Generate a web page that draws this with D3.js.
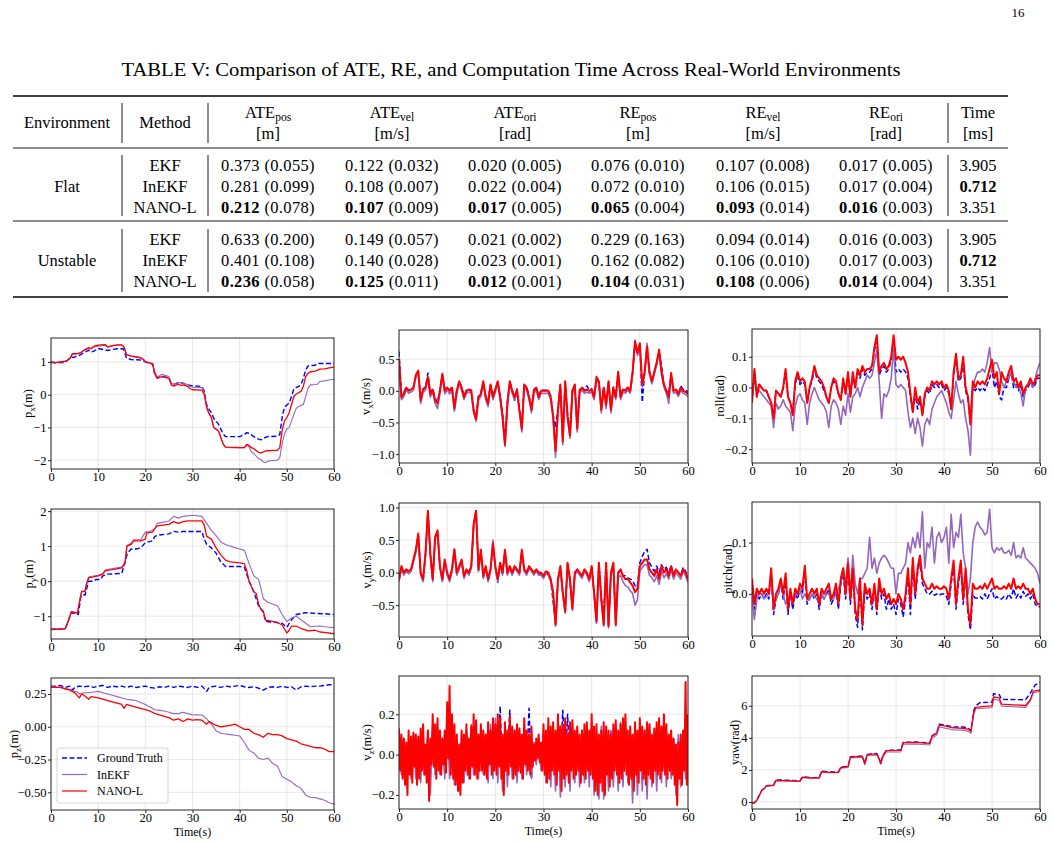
<!DOCTYPE html>
<html>
<head>
<meta charset="utf-8">
<script src="https://cdn.jsdelivr.net/npm/d3@7"></script>
<style>
  body { margin: 0; background: #fff; }
  svg text { font-family: "Liberation Serif", "Times New Roman", serif; fill: #000; }
</style>
</head>
<body>
<svg id="page" width="1053" height="843"></svg>
<script>
// ---------- table data ----------
const tableTitle = "TABLE V: Comparison of ATE, RE, and Computation Time Across Real-World Environments";
const metricNames = ["ATE", "ATE", "ATE", "RE", "RE", "RE"];
const metricSubs = ["pos", "vel", "ori", "pos", "vel", "ori"];
const metricUnits = ["[m]", "[m/s]", "[rad]", "[m]", "[m/s]", "[rad]"];
const environments = ["Flat", "Unstable"];
const methods = ["EKF", "InEKF", "NANO-L"];
const flatMean = [[0.373, 0.122, 0.020, 0.076, 0.107, 0.017], [0.281, 0.108, 0.022, 0.072, 0.106, 0.017], [0.212, 0.107, 0.017, 0.065, 0.093, 0.016]];
const flatStd = [[0.055, 0.032, 0.005, 0.010, 0.008, 0.005], [0.099, 0.007, 0.004, 0.010, 0.015, 0.004], [0.078, 0.009, 0.005, 0.004, 0.014, 0.003]];
const unstableMean = [[0.633, 0.149, 0.021, 0.229, 0.094, 0.016], [0.401, 0.140, 0.023, 0.162, 0.106, 0.017], [0.236, 0.125, 0.012, 0.104, 0.108, 0.014]];
const unstableStd = [[0.200, 0.057, 0.002, 0.163, 0.014, 0.003], [0.108, 0.028, 0.001, 0.082, 0.010, 0.003], [0.058, 0.011, 0.001, 0.031, 0.006, 0.004]];
const computeTime = [3.905, 0.712, 3.351];

// ---------- plot data ----------
const timeTicks = [0, 10, 20, 30, 40, 50, 60];
const legendNames = ["Ground Truth", "InEKF", "NANO-L"];

// [time, value] pairs read at the turning points
const pxGT = [[0,0.98],[1,0.97],[2,0.98],[3,0.98],[3.5,1.05],[4,1.12],[5,1.15],[6,1.2],[7,1.28],[8,1.36],[8.5,1.3],[9,1.32],[10,1.41],[11,1.38],[12,1.35],[13,1.38],[14,1.4],[15.3,1.4],[15.6,1.3],[16,1.12],[17,1.07],[19,1.06],[20,1.0],[21,0.95],[21.6,0.93],[22,0.6],[22.5,0.52],[23.5,0.55],[25,0.52],[25.5,0.34],[26,0.32],[27,0.36],[28,0.35],[29,0.3],[30,0.27],[32,0.25],[32.5,0.1],[33,-0.3],[33.5,-0.45],[34,-0.55],[34.5,-0.72],[35.5,-0.9],[36,-1.05],[36.5,-1.2],[37,-1.28],[40,-1.28],[41,-1.22],[41.5,-1.16],[42,-1.18],[43,-1.28],[44,-1.36],[44.5,-1.38],[45.5,-1.3],[46,-1.28],[48,-1.27],[48.5,-1.22],[49,-0.7],[49.5,-0.38],[50,-0.32],[50.5,-0.25],[51,-0.05],[51.5,0.18],[52.5,0.25],[53,0.3],[53.5,0.5],[54,0.75],[54.5,0.88],[56,0.9],[56.5,0.95],[60,0.95]];
const pxInEKF = [[0,1.0],[1,0.98],[2,1.0],[3,1.02],[3.5,1.05],[4,1.1],[4.5,1.22],[5.5,1.24],[6.5,1.3],[7,1.35],[7.5,1.38],[8,1.42],[8.5,1.4],[9,1.45],[10,1.48],[11,1.5],[11.5,1.5],[12,1.45],[13,1.49],[14,1.51],[15,1.51],[15.5,1.45],[16,1.22],[17,1.18],[19,1.14],[19.5,1.1],[20,1.02],[21,0.97],[21.5,0.96],[22,0.7],[22.5,0.55],[23,0.58],[23.5,0.62],[25,0.55],[25.5,0.35],[26,0.32],[27,0.38],[28,0.35],[29,0.3],[29.5,0.25],[30,0.23],[32,0.22],[32.5,0.05],[33,-0.35],[33.5,-0.55],[34,-0.7],[34.5,-1.0],[35.5,-1.12],[36,-1.32],[36.5,-1.52],[37,-1.6],[38,-1.62],[40,-1.63],[41,-1.62],[41.5,-1.55],[42,-1.6],[42.5,-1.75],[43,-1.8],[44,-1.95],[44.5,-1.98],[45,-2.05],[45.5,-2.08],[46,-2.03],[47,-2.01],[48,-2.0],[48.5,-1.92],[49,-1.5],[49.5,-1.2],[50,-1.05],[50.5,-1.0],[51,-0.8],[51.5,-0.6],[52,-0.42],[52.5,-0.36],[53.5,-0.3],[54,-0.05],[54.5,0.2],[55,0.3],[56,0.31],[56.5,0.32],[57,0.4],[58,0.42],[59,0.45],[60,0.47]];
const pxNANO = [[0,1.0],[1,0.98],[2,1.0],[3,1.02],[3.5,1.05],[4,1.1],[4.5,1.25],[5.5,1.25],[6,1.27],[6.5,1.3],[7,1.36],[7.5,1.4],[8,1.44],[8.5,1.4],[9,1.47],[9.5,1.5],[10.5,1.52],[11.5,1.53],[12,1.46],[13,1.5],[14,1.52],[15,1.52],[15.5,1.45],[16,1.22],[17,1.18],[18,1.15],[19,1.12],[19.5,1.08],[20,1.0],[21,0.96],[21.5,0.95],[22,0.65],[22.5,0.5],[23.5,0.55],[25,0.5],[25.5,0.3],[26,0.26],[27,0.32],[27.5,0.28],[28,0.3],[29,0.25],[29.5,0.18],[30,0.15],[32,0.14],[32.5,0.0],[33,-0.4],[33.5,-0.58],[34,-0.7],[34.5,-1.0],[35.5,-1.1],[36,-1.3],[36.5,-1.5],[37,-1.6],[39,-1.61],[41,-1.62],[41.5,-1.52],[42,-1.55],[42.5,-1.62],[43,-1.65],[44,-1.76],[44.5,-1.78],[45.5,-1.72],[47,-1.7],[48,-1.7],[48.5,-1.62],[49,-1.1],[49.5,-0.8],[50,-0.7],[50.5,-0.55],[51,-0.3],[51.5,-0.05],[52,0.02],[53,0.1],[53.5,0.25],[54,0.55],[54.5,0.65],[55,0.7],[56,0.72],[57,0.78],[58,0.79],[59,0.82],[60,0.84]];

const pyGT = [[0,-1.36],[3,-1.36],[3.5,-1.2],[4.3,-0.9],[5,-0.92],[5.8,-0.95],[6.3,-0.45],[6.8,-0.38],[7.2,-0.4],[8,0.0],[9,0.0],[9.6,0.05],[10.5,0.05],[11,0.15],[12,0.2],[15,0.22],[15.8,0.6],[16.2,0.8],[17,0.92],[18,0.92],[19,0.95],[20,1.1],[21.5,1.15],[22,1.28],[23,1.32],[25,1.35],[26,1.42],[27,1.4],[28,1.42],[32,1.42],[32.5,1.2],[33,1.05],[34,0.95],[35,0.8],[36,0.55],[37,0.42],[40,0.42],[41,0.4],[42,0.0],[43,-0.3],[44,-0.7],[45,-0.88],[45.5,-1.15],[48,-1.18],[49,-1.2],[50,-1.32],[51,-1.1],[52,-0.95],[54,-0.9],[56,-0.92],[58,-0.93],[60,-0.95]];
const pyInEKF = [[0,-1.36],[3,-1.36],[3.5,-1.2],[4.3,-0.86],[5,-0.88],[5.6,-0.9],[6.2,-0.45],[6.5,-0.28],[7.2,-0.28],[7.5,-0.08],[8,0.12],[9,0.15],[10,0.17],[11,0.22],[11.5,0.32],[13,0.36],[15,0.4],[15.7,0.55],[16.1,1.02],[17,1.08],[17.5,1.18],[19,1.18],[20,1.4],[21,1.42],[22,1.5],[22.5,1.65],[25,1.72],[26,1.85],[27,1.8],[28,1.85],[30,1.88],[32,1.85],[33,1.65],[34,1.45],[35,1.3],[36,1.12],[37,1.05],[38,1.0],[40,0.92],[41,0.88],[42,0.5],[43,0.15],[44,0.05],[44.5,-0.2],[45,-0.5],[46,-0.6],[48,-0.7],[49,-0.95],[50,-1.15],[51,-1.05],[52,-1.0],[53,-1.1],[54,-1.2],[55,-1.3],[57,-1.28],[58,-1.3],[60,-1.33]];
const pyNANO = [[0,-1.38],[3,-1.36],[3.5,-1.2],[4.3,-0.88],[5,-0.9],[5.6,-0.92],[6.2,-0.5],[6.5,-0.3],[7.2,-0.3],[7.5,-0.1],[8,0.1],[9,0.12],[10,0.15],[11,0.2],[11.5,0.3],[13,0.33],[15,0.38],[15.7,0.5],[16.1,1.0],[17,1.05],[17.5,1.15],[19,1.15],[20,1.2],[20.3,1.38],[21.5,1.4],[22,1.5],[22.5,1.58],[25,1.62],[26,1.7],[27,1.65],[28,1.7],[29,1.72],[32,1.72],[32.5,1.6],[33,1.28],[34,1.2],[35,0.95],[36,0.75],[37,0.6],[38,0.55],[40,0.52],[41,0.5],[41.5,0.3],[42,0.0],[43,-0.3],[43.5,-0.35],[44,-0.65],[44.5,-0.8],[45,-0.85],[45.5,-1.12],[46,-1.12],[48,-1.18],[49,-1.25],[50,-1.48],[50.5,-1.4],[51,-1.28],[52,-1.28],[53,-1.35],[54.5,-1.42],[56,-1.4],[57,-1.45],[58,-1.46],[60,-1.5]];

const pzGT = [[0,0.31],[1,0.31],[2,0.315],[3,0.3],[4,0.31],[4.6,0.28],[5,0.3],[6,0.31],[7,0.305],[8,0.31],[9,0.3],[10,0.31],[11,0.315],[12,0.3],[13,0.31],[14,0.305],[15,0.31],[16,0.3],[17,0.31],[18,0.3],[19,0.305],[20,0.31],[21,0.3],[22,0.295],[23,0.305],[24,0.3],[25,0.31],[26,0.3],[27,0.31],[28,0.305],[29,0.3],[30,0.31],[31,0.3],[32,0.31],[33,0.27],[33.5,0.3],[34,0.305],[35,0.31],[36,0.3],[37,0.31],[38,0.305],[39,0.31],[40,0.315],[41,0.305],[42,0.3],[43,0.305],[44,0.295],[45,0.28],[46,0.3],[47,0.305],[48,0.3],[49,0.31],[50,0.3],[51,0.305],[52,0.28],[53,0.305],[54,0.31],[55,0.305],[56,0.31],[57,0.31],[58,0.315],[59,0.32],[60,0.32]];
const pzInEKF = [[0,0.3],[1,0.305],[2,0.3],[3,0.29],[4,0.285],[5,0.27],[5.5,0.265],[6,0.25],[7,0.26],[8,0.26],[9,0.265],[10,0.27],[11,0.26],[12,0.25],[13,0.24],[14,0.23],[15,0.22],[16,0.21],[17,0.205],[18,0.2],[19,0.185],[20,0.17],[21,0.15],[22,0.13],[23,0.125],[24,0.12],[25,0.11],[26,0.1],[27,0.1],[28,0.11],[29,0.1],[30,0.09],[31,0.092],[32,0.09],[33,0.06],[34,0.02],[35,-0.03],[36,-0.05],[37,-0.055],[38,-0.06],[39,-0.065],[40,-0.07],[41,-0.12],[42,-0.18],[43,-0.2],[44,-0.24],[45,-0.25],[46,-0.24],[47,-0.28],[48,-0.3],[49,-0.38],[50,-0.4],[51,-0.42],[52,-0.45],[53,-0.47],[54,-0.52],[55,-0.54],[56,-0.54],[57,-0.55],[58,-0.56],[59,-0.58],[60,-0.59]];
const pzNANO = [[0,0.3],[1,0.3],[2,0.3],[3,0.29],[4,0.28],[5,0.26],[6,0.22],[6.5,0.25],[7,0.24],[8,0.21],[8.5,0.23],[10,0.22],[11,0.21],[12,0.2],[13,0.19],[14,0.18],[15,0.17],[15.5,0.14],[16,0.17],[17,0.16],[18,0.15],[19,0.14],[20,0.13],[21,0.12],[22,0.1],[23,0.09],[24,0.08],[25,0.07],[26,0.05],[27,0.06],[28,0.04],[29,0.06],[30,0.05],[31,0.055],[32,0.05],[33,0.02],[33.5,0.04],[34,0.03],[35,0.01],[36,0.0],[37,0.005],[38,0.01],[39,0.02],[40,0.0],[41,-0.02],[42,-0.02],[43,-0.05],[44,-0.06],[45,-0.08],[46,-0.05],[47,-0.06],[48,-0.06],[49,-0.07],[50,-0.09],[51,-0.1],[52,-0.11],[53,-0.13],[54,-0.14],[55,-0.15],[56,-0.16],[57,-0.16],[58,-0.17],[59,-0.19],[60,-0.19]];

const yawGT = [[0,-0.05],[0.5,-0.05],[1,0.1],[1.5,0.4],[2,0.7],[2.5,0.85],[3,1.02],[4.5,1.05],[5,1.38],[8,1.35],[10,1.32],[10.5,1.58],[12,1.52],[14,1.52],[14.5,1.92],[16,1.88],[18,1.87],[18.5,2.17],[20,2.22],[20.5,2.82],[23,2.87],[23.5,2.4],[24,2.97],[26,3.02],[26.5,2.7],[26.8,2.42],[27.3,2.92],[28,3.22],[31,3.25],[31.5,3.72],[34,3.74],[37,3.68],[37.5,4.12],[38.5,4.32],[39,4.85],[40,4.8],[42,4.68],[44,4.68],[45,4.62],[45.6,4.45],[46.2,5.7],[46.6,6.0],[47.5,6.2],[50,6.22],[50.3,6.75],[51.5,6.7],[52,6.4],[57,6.38],[58,6.8],[59,7.3],[60,7.45]];
const yawInEKF = [[0,-0.05],[0.5,-0.05],[1,0.1],[1.5,0.38],[2,0.68],[2.5,0.8],[3,0.98],[4.5,1.02],[5,1.33],[8,1.3],[10,1.28],[10.5,1.52],[12,1.48],[14,1.48],[14.5,1.86],[16,1.82],[18,1.82],[18.5,2.1],[20,2.15],[20.5,2.75],[23,2.8],[23.5,2.32],[24,2.9],[26,2.93],[26.5,2.62],[26.8,2.35],[27.3,2.82],[28,3.12],[31,3.12],[31.5,3.6],[34,3.62],[37,3.55],[37.5,3.98],[38.5,4.18],[39,4.68],[40,4.62],[42,4.5],[44,4.48],[45,4.42],[45.6,4.28],[46.2,5.45],[46.6,5.82],[48,5.85],[50,5.88],[50.3,6.4],[51.5,6.35],[52,5.98],[57,5.9],[58,6.3],[58.6,6.8],[60,6.92]];
const yawNANO = [[0,-0.05],[0.5,-0.05],[1,0.1],[1.5,0.4],[2,0.7],[2.5,0.82],[3,1.0],[4.5,1.05],[5,1.35],[8,1.32],[10,1.3],[10.5,1.55],[12,1.5],[14,1.5],[14.5,1.9],[16,1.85],[18,1.85],[18.5,2.15],[20,2.2],[20.5,2.8],[23,2.85],[23.5,2.38],[24,2.95],[26,3.0],[26.5,2.7],[26.8,2.4],[27.3,2.9],[28,3.2],[31,3.22],[31.5,3.7],[34,3.72],[37,3.65],[37.5,4.1],[38.5,4.3],[39,4.8],[40,4.75],[42,4.62],[44,4.6],[45,4.55],[45.6,4.4],[46.2,5.6],[46.6,5.9],[48,5.95],[50,6.0],[50.3,6.55],[51.5,6.5],[52,6.1],[57,6.02],[58,6.4],[58.6,6.9],[60,7.0]];

// evenly sampled series over 0..60 s
const vxGT = [0.62,-0.05,-0.03,0.06,0.01,0.03,0.06,0.23,0.30,-0.12,
  0.03,0.06,0.28,-0.03,0.03,-0.12,-0.18,0.02,0.25,0.02,
  0.06,0.01,0.06,-0.25,0.02,0.14,0.06,-0.08,0.01,0.03,
  0.01,-0.35,-0.40,-0.08,-0.03,0.14,-0.08,-0.15,0.09,-0.08,
  0.03,0.14,-0.08,-0.35,-0.82,-0.18,0.14,0.02,-0.15,0.03,
  -0.28,-0.55,0.09,0.06,-0.08,-0.28,0.02,0.06,-0.08,0.01,
  0.01,0.01,0.01,-0.08,-0.38,-0.58,-0.28,0.09,-0.75,0.14,
  -0.38,-0.65,0.02,0.09,-0.55,0.02,0.06,0.01,0.08,0.01,
  0.03,-0.08,0.15,0.14,-0.28,0.06,-0.20,0.14,-0.28,0.06,
  -0.08,0.28,-0.08,0.03,0.01,0.06,0.01,0.28,0.75,0.58,
  0.72,-0.18,0.28,0.68,0.28,0.14,0.28,0.43,0.62,0.40,
  0.09,0.01,-0.05,0.26,0.01,0.03,-0.06,0.08,0.02,0.02,
  -0.03];
const vxInEKF = [0.45,-0.14,-0.09,0.02,-0.04,-0.02,0.01,0.22,0.28,-0.20,
  -0.02,0.01,0.18,-0.10,-0.02,-0.20,-0.28,-0.04,0.24,-0.05,
  0.01,-0.05,0.01,-0.32,-0.04,0.12,0.01,-0.14,-0.04,-0.02,
  -0.04,-0.35,-0.48,-0.14,-0.09,0.12,-0.14,-0.25,0.06,-0.14,
  -0.02,0.12,-0.14,-0.45,-0.88,-0.25,0.12,-0.04,-0.14,-0.02,
  -0.34,-0.65,0.06,0.01,-0.14,-0.35,-0.04,0.01,-0.14,-0.04,
  -0.04,-0.04,-0.04,-0.14,-0.45,-1.05,-0.35,0.06,-0.85,0.12,
  -0.45,-0.75,-0.04,0.06,-0.65,-0.04,0.01,-0.04,-0.02,-0.04,
  -0.02,-0.14,0.18,0.12,-0.35,0.01,-0.28,0.12,-0.35,0.01,
  -0.14,0.26,-0.14,-0.02,-0.04,0.01,-0.04,0.26,0.80,0.56,
  0.72,0.06,0.26,0.75,0.26,0.11,0.26,0.42,0.62,0.26,
  0.06,-0.04,-0.20,0.24,-0.04,-0.02,-0.09,0.01,-0.04,-0.06,
  -0.09];
const vxNANO = [0.50,-0.10,-0.05,0.05,0.00,0.02,0.05,0.25,0.32,-0.15,
  0.02,0.05,0.22,-0.05,0.02,-0.15,-0.20,0.00,0.27,0.00,
  0.05,0.00,0.05,-0.28,0.00,0.15,0.05,-0.10,0.00,0.02,
  0.00,-0.30,-0.45,-0.10,-0.05,0.15,-0.10,-0.20,0.10,-0.10,
  0.02,0.15,-0.10,-0.40,-0.85,-0.20,0.15,0.00,-0.10,0.02,
  -0.30,-0.60,0.10,0.05,-0.10,-0.30,0.00,0.05,-0.10,0.00,
  0.00,0.00,0.00,-0.10,-0.40,-0.95,-0.30,0.10,-0.80,0.15,
  -0.40,-0.70,0.00,0.10,-0.60,0.00,0.05,0.00,0.02,0.00,
  0.02,-0.10,0.22,0.15,-0.30,0.05,-0.22,0.15,-0.30,0.05,
  -0.10,0.30,-0.10,0.02,0.00,0.05,0.00,0.30,0.78,0.60,
  0.75,0.10,0.30,0.70,0.30,0.15,0.30,0.45,0.65,0.30,
  0.10,0.00,-0.10,0.28,0.00,0.02,-0.05,0.05,0.00,-0.02,
  -0.05];

const vyGT = [-0.12,0.08,-0.02,0.04,0.01,0.04,0.18,0.33,0.58,-0.02,
  -0.12,0.28,0.92,0.28,-0.12,0.52,0.62,0.08,-0.12,0.18,
  -0.02,-0.12,0.04,0.34,-0.02,0.08,0.18,-0.07,0.04,-0.02,
  0.08,0.72,0.97,0.03,0.33,-0.07,0.08,-0.12,0.04,0.43,
  0.08,-0.15,0.13,-0.02,0.33,-0.02,0.08,-0.02,0.08,0.04,
  -0.02,0.33,0.04,-0.02,0.08,0.04,-0.02,0.04,-0.02,-0.02,
  -0.07,0.01,-0.02,-0.12,-0.45,-0.78,-0.12,0.08,-0.32,-0.58,
  0.13,-0.12,-0.55,-0.02,0.04,-0.02,-0.07,0.04,-0.02,-0.12,
  0.08,-0.32,-0.72,0.13,-0.42,-0.60,0.13,-0.80,-0.02,0.13,
  -0.78,-0.02,0.04,-0.05,-0.05,-0.08,-0.10,-0.12,-0.20,-0.22,
  0.15,0.25,0.32,0.36,0.15,0.08,0.02,0.10,0.00,0.12,
  0.05,0.08,0.00,0.10,-0.02,0.04,0.00,-0.04,0.08,0.02,
  -0.08];
const vyInEKF = [-0.14,0.06,-0.04,0.02,-0.02,0.02,0.16,0.32,0.56,-0.04,
  -0.14,0.26,0.92,0.26,-0.14,0.50,0.62,0.06,-0.14,0.16,
  -0.04,-0.14,0.02,0.32,-0.04,0.06,0.16,-0.09,0.02,-0.04,
  0.06,0.72,0.92,0.02,0.32,-0.09,0.06,-0.14,0.02,0.50,
  0.06,-0.14,0.12,-0.04,0.32,-0.04,0.06,-0.04,0.06,0.02,
  -0.04,0.32,0.02,-0.04,0.06,0.02,-0.04,0.02,-0.04,-0.04,
  -0.09,-0.02,-0.04,-0.14,-0.34,-0.82,-0.14,0.06,-0.34,-0.62,
  0.12,-0.14,-0.58,-0.04,0.02,-0.04,-0.09,0.02,-0.04,-0.14,
  0.06,-0.34,-0.78,0.12,-0.44,-0.82,0.12,-0.85,-0.04,0.12,
  -0.82,-0.08,-0.04,-0.14,-0.20,-0.22,-0.28,-0.32,-0.50,-0.42,
  0.02,0.08,0.12,0.12,-0.04,-0.08,-0.14,-0.05,-0.18,0.02,
  -0.08,-0.02,-0.10,0.05,-0.10,0.00,-0.05,-0.10,0.02,-0.05,
  -0.15];
const vyNANO = [-0.10,0.10,0.00,0.05,0.02,0.05,0.20,0.35,0.60,0.00,
  -0.10,0.30,0.95,0.30,-0.10,0.55,0.65,0.10,-0.10,0.20,
  0.00,-0.10,0.05,0.36,0.00,0.10,0.20,-0.05,0.05,0.00,
  0.10,0.75,0.95,0.05,0.35,-0.05,0.10,-0.10,0.05,0.45,
  0.10,-0.10,0.15,0.00,0.35,0.00,0.10,0.00,0.10,0.05,
  0.00,0.35,0.05,0.00,0.10,0.05,0.00,0.05,0.00,0.00,
  -0.05,0.02,0.00,-0.10,-0.30,-0.80,-0.10,0.10,-0.30,-0.60,
  0.15,-0.10,-0.55,0.00,0.05,0.00,-0.05,0.05,0.00,-0.10,
  0.10,-0.30,-0.75,0.15,-0.40,-0.80,0.15,-0.82,0.00,0.15,
  -0.80,0.00,0.05,-0.05,-0.10,-0.10,-0.15,-0.20,-0.30,-0.25,
  0.10,0.15,0.20,0.20,0.05,0.00,-0.05,0.05,-0.10,0.10,
  0.00,0.05,-0.05,0.10,-0.05,0.05,0.00,-0.05,0.05,0.00,
  -0.10];

const vzGT = [0.08,-0.06,0.07,-0.08,0.06,-0.05,0.08,-0.07,0.05,-0.06,0.07,-0.04,0.10,-0.05,0.12,-0.06,0.10,-0.05,0.08,-0.06,
  0.15,-0.05,0.10,-0.08,0.06,-0.10,0.08,-0.06,0.10,-0.05,0.12,-0.04,0.10,-0.06,0.08,-0.05,0.10,-0.06,0.12,-0.05,
  0.12,-0.06,0.24,-0.12,0.10,-0.05,0.22,-0.08,0.12,-0.06,0.10,-0.05,0.08,-0.06,0.23,-0.12,0.06,-0.02,0.05,-0.03,
  0.10,-0.06,0.12,-0.05,0.10,-0.06,0.12,-0.05,0.22,-0.04,0.20,-0.06,0.10,-0.05,0.12,-0.06,0.10,-0.05,0.12,-0.06,
  0.12,-0.08,0.10,-0.10,0.12,-0.08,0.10,-0.06,0.12,-0.05,0.10,-0.06,0.12,-0.05,0.10,-0.08,0.12,-0.06,0.10,-0.08,
  0.12,-0.06,0.10,-0.08,0.12,-0.05,0.10,-0.06,0.12,-0.05,0.10,-0.06,0.08,-0.05,0.07,-0.12,0.08,-0.06,0.10,-0.05,
  0.05];
const vzInEKF = [0.10,-0.10,0.08,-0.15,0.06,-0.12,0.10,-0.12,0.08,-0.14,0.10,-0.10,0.12,-0.20,0.14,-0.10,0.12,-0.10,0.08,-0.12,
  0.22,-0.12,0.12,-0.15,0.08,-0.18,0.10,-0.14,0.12,-0.12,0.15,-0.10,0.14,-0.12,0.12,-0.10,0.10,-0.14,0.15,-0.12,
  0.18,-0.14,0.10,-0.18,0.12,-0.16,0.15,-0.12,0.10,-0.14,0.12,-0.12,0.14,-0.10,0.10,-0.12,0.06,-0.05,0.08,-0.08,
  0.12,-0.14,0.14,-0.16,0.12,-0.18,0.15,-0.21,0.14,-0.16,0.12,-0.18,0.16,-0.14,0.13,-0.16,0.12,-0.14,0.14,-0.16,
  0.16,-0.20,0.12,-0.22,0.14,-0.22,0.12,-0.18,0.12,-0.16,0.14,-0.18,0.16,-0.16,0.18,-0.14,0.12,-0.24,0.14,-0.20,
  0.15,-0.18,0.12,-0.22,0.14,-0.16,0.12,-0.18,0.14,-0.14,0.18,-0.16,0.10,-0.12,0.08,-0.20,0.10,-0.16,0.12,-0.12,
  0.05];
const vzNANO = [0.13,-0.08,0.10,-0.12, 0.08,-0.15,0.06,-0.20, 0.12,-0.10,0.09,-0.14, 0.11,-0.06,0.10,-0.15, 0.09,-0.12,0.13,-0.08,
  0.15,-0.10,0.05,-0.14, 0.12,-0.23,0.08,-0.05, 0.20,-0.06,0.15,-0.12, 0.18,-0.08,0.12,-0.10, 0.08,-0.05,0.12,-0.09,
  0.26,-0.02,0.34,-0.10, 0.20,-0.12,0.15,-0.15, 0.10,-0.18,0.05,-0.20, 0.12,-0.14,0.10,-0.08, 0.15,-0.10,0.08,-0.12,
  0.14,-0.06,0.20,-0.10, 0.17,-0.12,0.10,-0.08, 0.15,-0.08,0.12,-0.10, 0.10,-0.12,0.16,-0.05, 0.12,-0.10,0.18,-0.08,
  0.15,-0.10,0.20,-0.06, 0.18,-0.12,0.10,-0.20, 0.16,-0.08,0.12,-0.10, 0.19,-0.06,0.14,-0.12, 0.12,-0.10,0.15,-0.08,
  0.13,-0.09,0.10,-0.12, 0.18,-0.05,0.12,-0.08, 0.10,-0.10,0.14,-0.06, 0.05,-0.03,0.08,-0.02, 0.10,-0.04,0.06,-0.08,
  0.15,-0.10,0.12,-0.14, 0.18,-0.12,0.14,-0.08, 0.16,-0.10,0.12,-0.15, 0.20,-0.08,0.14,-0.18, 0.15,-0.12,0.18,-0.10,
  0.10,-0.14,0.16,-0.08, 0.17,-0.12,0.12,-0.10, 0.14,-0.08,0.10,-0.14, 0.12,-0.10,0.15,-0.12, 0.16,-0.08,0.12,-0.10,
  0.20,-0.12,0.14,-0.18, 0.15,-0.20,0.10,-0.14, 0.12,-0.18,0.16,-0.20, 0.14,-0.10,0.12,-0.16, 0.10,-0.12,0.15,-0.08,
  0.17,-0.10,0.12,-0.14, 0.15,-0.12,0.18,-0.08, 0.20,-0.10,0.12,-0.15, 0.14,-0.12,0.10,-0.18, 0.16,-0.10,0.12,-0.14,
  0.18,-0.08,0.14,-0.12, 0.12,-0.15,0.16,-0.10, 0.15,-0.12,0.10,-0.14, 0.13,-0.08,0.16,-0.10, 0.18,-0.12,0.14,-0.08,
  0.20,-0.10,0.15,-0.12, 0.10,-0.08,0.12,-0.10, 0.08,-0.15,0.05,-0.25, 0.06,-0.12,0.10,-0.15, 0.12,-0.08,0.36,-0.15,
  0.20];

const rollGT = [-0.05,0.05,-0.03,0.01,0.00,-0.01,-0.01,-0.03,-0.05,-0.09,
  -0.01,-0.02,-0.03,0.00,0.05,-0.03,-0.05,-0.08,0.01,0.04,
  0.01,0.02,0.01,-0.05,0.00,0.02,0.06,0.03,0.02,0.01,
  -0.01,-0.03,-0.05,0.00,0.02,0.01,-0.02,-0.04,0.02,-0.02,
  0.04,-0.03,0.04,0.00,0.05,0.03,0.06,0.04,0.05,0.05,
  0.06,0.12,0.15,0.04,0.06,0.07,0.05,0.06,0.09,0.16,
  0.05,0.06,0.05,0.06,0.05,0.03,-0.03,-0.08,-0.02,-0.07,
  -0.04,-0.09,-0.03,-0.01,-0.02,0.01,0.00,0.01,0.00,0.01,
  -0.01,0.00,-0.02,-0.07,0.04,0.10,0.02,0.03,0.08,-0.01,
  -0.04,-0.11,0.00,-0.01,0.00,-0.01,0.00,-0.01,0.01,0.03,
  0.06,0.00,0.02,-0.03,-0.04,0.00,0.00,0.03,0.05,0.00,
  0.01,-0.01,0.01,-0.03,-0.01,0.00,0.02,0.00,0.01,0.03,
  0.03];
const rollInEKF = [0.00,0.02,0.00,-0.01,-0.02,-0.03,-0.04,-0.05,-0.06,-0.13,
  -0.05,-0.07,-0.06,-0.04,-0.06,-0.07,-0.08,-0.14,-0.06,-0.03,
  -0.02,-0.04,-0.05,-0.12,-0.05,-0.02,0.00,-0.02,-0.04,-0.05,
  -0.06,-0.08,-0.13,-0.06,-0.04,-0.05,-0.07,-0.12,-0.06,-0.09,
  -0.02,-0.08,-0.03,-0.02,0.00,-0.03,0.00,0.02,0.04,0.03,
  0.04,0.08,0.12,0.02,-0.10,-0.02,-0.03,-0.01,0.03,0.13,
  0.01,0.00,0.01,0.00,-0.01,-0.08,-0.13,-0.10,-0.15,-0.10,
  -0.13,-0.19,-0.12,-0.10,-0.12,-0.07,-0.05,-0.03,-0.02,-0.01,
  -0.03,-0.05,-0.08,-0.10,-0.04,0.02,-0.02,-0.05,-0.04,-0.10,
  -0.14,-0.22,0.00,0.03,0.05,0.05,0.06,0.05,0.08,0.13,
  0.05,0.08,0.08,0.06,0.02,0.00,0.02,0.03,0.05,0.02,
  0.00,0.01,-0.02,-0.06,0.00,0.01,0.02,0.00,0.03,0.06,
  0.08];
const rollNANO = [-0.05,0.06,-0.03,0.01,0.00,-0.01,-0.01,-0.03,-0.05,-0.10,
  -0.01,-0.02,-0.03,0.00,0.06,-0.03,-0.05,-0.09,0.02,0.05,
  0.02,0.03,0.02,-0.05,0.00,0.03,0.07,0.04,0.03,0.02,
  0.00,-0.03,-0.05,0.00,0.03,0.02,-0.02,-0.04,0.03,-0.02,
  0.05,-0.03,0.05,0.00,0.06,0.04,0.07,0.05,0.06,0.06,
  0.07,0.13,0.17,0.05,0.07,0.08,0.06,0.07,0.10,0.17,
  0.09,0.10,0.09,0.10,0.08,0.05,-0.02,-0.08,0.00,-0.05,
  -0.03,-0.09,-0.02,0.00,-0.01,0.02,0.01,0.02,0.01,0.02,
  0.00,0.01,-0.01,-0.07,0.05,0.11,0.03,0.04,0.10,0.00,
  -0.03,-0.12,0.02,0.00,0.02,0.01,0.02,0.01,0.03,0.06,
  0.09,0.03,0.05,-0.02,0.05,0.03,0.02,0.05,0.07,0.02,
  0.03,0.00,0.02,-0.02,0.00,0.01,0.03,0.01,0.02,0.04,
  0.04];

const pitchGT = [0.02,-0.03,0.00,-0.01,0.00,-0.01,0.00,-0.01,0.04,-0.04,
  -0.01,0.00,0.02,-0.01,0.03,-0.04,0.00,-0.03,0.00,-0.01,
  0.01,0.00,0.045,-0.02,-0.01,0.00,-0.01,0.00,-0.03,0.00,
  -0.01,0.00,0.01,-0.02,-0.01,0.01,-0.03,0.02,0.04,-0.01,
  0.05,-0.02,0.04,-0.04,-0.065,0.02,-0.07,0.01,-0.01,0.00,
  -0.03,0.01,-0.04,0.02,-0.01,0.00,-0.03,-0.01,-0.03,-0.02,
  -0.04,-0.01,-0.02,-0.045,-0.01,0.04,-0.04,0.06,-0.01,0.04,
  0.065,0.02,0.01,0.00,0.00,0.005,-0.003,0.00,-0.003,0.00,
  0.00,-0.005,-0.02,0.02,0.055,-0.03,0.02,0.055,-0.02,0.04,
  -0.04,-0.07,0.00,-0.008,-0.008,-0.005,-0.01,0.00,-0.01,0.00,
  0.01,-0.01,-0.005,-0.01,-0.01,-0.005,-0.01,0.00,-0.008,0.01,
  -0.008,0.00,-0.008,0.005,-0.005,0.00,-0.01,0.00,-0.02,-0.025,
  -0.025];
const pitchInEKF = [0.00,-0.05,-0.01,0.00,0.00,-0.01,-0.005,0.00,0.03,-0.02,
  -0.01,0.00,0.02,0.00,-0.02,-0.01,-0.01,-0.02,0.00,0.00,
  0.01,-0.01,0.00,-0.01,-0.01,0.00,-0.005,-0.01,-0.02,0.00,
  -0.01,0.00,0.00,-0.01,-0.01,0.00,0.01,0.02,0.05,0.02,
  0.07,0.00,0.075,0.02,0.00,0.03,0.03,0.04,0.05,0.11,
  0.05,0.07,0.04,0.06,0.07,0.075,0.07,0.06,0.05,0.05,
  0.00,0.04,0.04,0.05,0.06,0.10,0.08,0.11,0.09,0.12,
  0.09,0.16,0.05,0.10,0.09,0.13,0.06,0.11,0.12,0.10,
  0.11,0.13,0.06,0.155,0.09,0.12,0.11,0.155,0.08,0.05,
  0.00,0.03,0.10,0.13,0.14,0.13,0.125,0.115,0.12,0.165,
  0.09,0.08,0.09,0.085,0.09,0.08,0.08,0.085,0.075,0.10,
  0.07,0.075,0.07,0.09,0.07,0.065,0.06,0.055,0.05,0.04,
  0.02];
const pitchNANO = [0.03,-0.02,0.01,0.00,0.01,0.00,0.01,0.00,0.05,-0.03,
  0.00,0.01,0.03,0.00,0.04,-0.03,0.01,-0.02,0.01,0.00,
  0.02,0.01,0.055,-0.01,0.00,0.01,0.00,0.01,-0.02,0.01,
  0.00,0.01,0.02,-0.01,0.00,0.02,-0.02,0.03,0.05,0.00,
  0.06,-0.01,0.05,-0.03,-0.05,0.03,-0.06,0.02,0.00,0.01,
  -0.02,0.02,-0.03,0.03,0.00,0.01,-0.01,0.00,-0.02,-0.01,
  -0.02,0.00,-0.01,-0.03,0.00,0.05,-0.02,0.07,0.00,0.05,
  0.075,0.03,0.02,0.01,0.01,0.02,0.01,0.015,0.01,0.01,
  0.015,0.01,-0.01,0.03,0.065,-0.02,0.03,0.065,-0.01,0.05,
  -0.03,-0.06,0.02,0.01,0.01,0.015,0.01,0.02,0.01,0.02,
  0.03,0.01,0.015,0.01,0.01,0.015,0.01,0.02,0.01,0.03,
  0.01,0.015,0.01,0.02,0.01,0.01,0.00,0.01,-0.01,-0.02,
  -0.02];

// tick labels per panel
const pxTicks = [-2, -1, 0, 1];
const vxTicks = [-1.0, -0.5, 0.0, 0.5];
const rollTicks = [-0.2, -0.1, 0.0, 0.1];
const pyTicks = [-1, 0, 1, 2];
const vyTicks = [-0.5, 0.0, 0.5, 1.0];
const pitchTicks = [0.0, 0.1];
const pzTicks = [-0.5, -0.25, 0.0, 0.25];
const vzTicks = [-0.2, 0.0, 0.2];
const yawTicks = [0, 2, 4, 6];

const svg = d3.select("#page");
svg.append("rect").attr("width", 1053).attr("height", 843).attr("fill", "#fff");

// ---------- page number + caption ----------
svg.append("text").attr("x", 1018).attr("y", 17).attr("text-anchor", "middle")
    .style("font-size", "13px").text("16");
svg.append("text").attr("x", 511).attr("y", 76).attr("text-anchor", "middle")
    .attr("textLength", 779).attr("lengthAdjust", "spacingAndGlyphs")
    .style("font-size", "18.5px").text(tableTitle);

// ---------- table ----------
const colX = [67, 165, 268, 392, 515, 638, 763, 886, 978];
const tableLeft = 13, tableRight = 1008;
const rule = (y, w) => svg.append("line").attr("x1", tableLeft).attr("x2", tableRight)
    .attr("y1", y).attr("y2", y).attr("stroke", "#000").attr("stroke-width", w);
rule(96, 1.6);
rule(148, 0.9);
rule(221, 0.9);
rule(297, 1.6);

const vlines = [122, 208, 948];
const vSpans = [[103, 143], [155, 216], [229, 292]];
vSpans.forEach(s => {
    vlines.forEach(xv => {
        svg.append("line").attr("x1", xv).attr("x2", xv).attr("y1", s[0]).attr("y2", s[1])
            .attr("stroke", "#000").attr("stroke-width", 0.9);
    });
});

const cellFont = "16.5px";
svg.append("text").attr("x", colX[0]).attr("y", 127.5).attr("text-anchor", "middle").style("font-size", cellFont).text("Environment");
svg.append("text").attr("x", colX[1]).attr("y", 127.5).attr("text-anchor", "middle").style("font-size", cellFont).text("Method");
metricNames.forEach((m, i) => {
    const t = svg.append("text").attr("x", colX[i + 2]).attr("y", 118).attr("text-anchor", "middle").style("font-size", cellFont);
    t.append("tspan").text(m);
    t.append("tspan").attr("dy", 3).style("font-size", "11.5px").text(metricSubs[i]);
    svg.append("text").attr("x", colX[i + 2]).attr("y", 139).attr("text-anchor", "middle").style("font-size", cellFont).text(metricUnits[i]);
});
svg.append("text").attr("x", colX[8]).attr("y", 118).attr("text-anchor", "middle").style("font-size", cellFont).text("Time");
svg.append("text").attr("x", colX[8]).attr("y", 139).attr("text-anchor", "middle").style("font-size", cellFont).text("[ms]");

const groups = [
    { name: environments[0], mean: flatMean, std: flatStd, rows: [170.5, 191.5, 213] },
    { name: environments[1], mean: unstableMean, std: unstableStd, rows: [245, 266, 287] }
];
const fastest = d3.min(computeTime);
groups.forEach(g => {
    svg.append("text").attr("x", colX[0]).attr("y", g.rows[1]).attr("text-anchor", "middle").style("font-size", cellFont).text(g.name);
    methods.forEach((m, r) => {
        const y = g.rows[r];
        svg.append("text").attr("x", colX[1]).attr("y", y).attr("text-anchor", "middle").style("font-size", cellFont).text(m);
        g.mean[r].forEach((v, c) => {
            const t = svg.append("text").attr("x", colX[c + 2]).attr("y", y).attr("text-anchor", "middle")
                .style("font-size", cellFont).style("letter-spacing", "0.35px");
            t.append("tspan").style("font-weight", m === "NANO-L" ? "bold" : "normal").text(v.toFixed(3));
            t.append("tspan").text(" (" + g.std[r][c].toFixed(3) + ")");
        });
        svg.append("text").attr("x", colX[8]).attr("y", y).attr("text-anchor", "middle").style("font-size", cellFont)
            .style("font-weight", computeTime[r] === fastest ? "bold" : "normal").text(computeTime[r].toFixed(3));
    });
});

// ---------- panels ----------
const colors = { gt: "#0000ff", inekf: "#9467bd", nano: "#ff0000" };

const panels = [
    { id: "px", box: [51, 334, 338, 469], yDomain: [-2.27, 1.73], ticks: pxTicks, fmt: "d", label: ["p", "x", "(m)"], labelX: 28, series: [pxGT, pxInEKF, pxNANO], pairs: true },
    { id: "vx", box: [399, 688, 330, 463], yDomain: [-1.14, 0.96], ticks: vxTicks, fmt: ".1f", label: ["v", "x", "(m/s)"], labelX: 366, series: [vxGT, vxInEKF, vxNANO], noisy: true },
    { id: "roll", box: [752, 1040, 329, 463], yDomain: [-0.245, 0.19], ticks: rollTicks, fmt: ".1f", label: ["roll(rad)"], labelX: 720, series: [rollGT, rollInEKF, rollNANO], noisy: true },
    { id: "py", box: [51, 334, 509, 639], yDomain: [-1.65, 2.06], ticks: pyTicks, fmt: "d", label: ["p", "y", "(m)"], labelX: 29, series: [pyGT, pyInEKF, pyNANO], pairs: true },
    { id: "vy", box: [399, 688, 503, 637], yDomain: [-0.99, 1.07], ticks: vyTicks, fmt: ".1f", label: ["v", "y", "(m/s)"], labelX: 367, series: [vyGT, vyInEKF, vyNANO], noisy: true },
    { id: "pitch", box: [752, 1040, 502, 636], yDomain: [-0.082, 0.179], ticks: pitchTicks, fmt: ".1f", label: ["pitch(rad)"], labelX: 728, series: [pitchGT, pitchInEKF, pitchNANO], noisy: true },
    { id: "pz", box: [51, 334, 678, 810], yDomain: [-0.635, 0.372], ticks: pzTicks, fmt: ".2f", label: ["p", "z", "(m)"], labelX: 14, series: [pzGT, pzInEKF, pzNANO], pairs: true, xlabel: true, legend: true },
    { id: "vz", box: [399, 688, 676, 809], yDomain: [-0.27, 0.39], ticks: vzTicks, fmt: ".1f", label: ["v", "z", "(m/s)"], labelX: 367, series: [vzGT, vzInEKF, vzNANO], noisy: true, xlabel: true },
    { id: "yaw", box: [752, 1040, 676, 809], yDomain: [-0.44, 7.86], ticks: yawTicks, fmt: "d", label: ["yaw(rad)"], labelX: 735, series: [yawGT, yawInEKF, yawNANO], pairs: true, xlabel: true }
];

panels.forEach(p => {
    const [left, right, top, bottom] = p.box;
    const g = svg.append("g");
    const x = d3.scaleLinear().domain([0, 60]).range([left, right]);
    const y = d3.scaleLinear().domain(p.yDomain).range([bottom, top]);

    // grid
    g.selectAll(".gx").data(timeTicks).enter().append("line")
        .attr("x1", d => x(d)).attr("x2", d => x(d)).attr("y1", top).attr("y2", bottom)
        .attr("stroke", "#e2e2e2").attr("stroke-width", 0.8);
    g.selectAll(".gy").data(p.ticks).enter().append("line")
        .attr("x1", left).attr("x2", right).attr("y1", d => y(d)).attr("y2", d => y(d))
        .attr("stroke", "#e2e2e2").attr("stroke-width", 0.8);

    svg.append("clipPath").attr("id", "clip-" + p.id).append("rect")
        .attr("x", left).attr("y", top).attr("width", right - left).attr("height", bottom - top);

    const line = d3.line().x(d => x(d[0])).y(d => y(d[1]));
    const widths = p.noisy ? [1.5, 1.6, 2.0] : [1.4, 1.1, 1.3];
    const strokes = [colors.gt, colors.inekf, colors.nano];
    p.series.forEach((s, k) => {
        const pts = p.pairs ? s : s.map((v, i) => [i * 60 / (s.length - 1), v]);
        g.append("path").datum(pts)
            .attr("clip-path", `url(#clip-${p.id})`)
            .attr("d", line)
            .attr("fill", "none")
            .attr("stroke", strokes[k])
            .attr("stroke-width", widths[k])
            .attr("stroke-linejoin", "round")
            .attr("stroke-dasharray", k === 0 ? "5,2.5" : null);
    });

    // axes
    const ax = g.append("g").attr("transform", `translate(0,${bottom})`)
        .call(d3.axisBottom(x).tickValues(timeTicks).tickSize(3).tickPadding(0).tickFormat(d3.format("d")));
    const ay = g.append("g").attr("transform", `translate(${left},0)`)
        .call(d3.axisLeft(y).tickValues(p.ticks).tickSize(3).tickPadding(1.5).tickFormat(d3.format(p.fmt)));
    [ax, ay].forEach(a => {
        a.attr("font-size", 12.5).style("color", "#262626");
        a.select(".domain").remove();
        a.selectAll("text").style("fill", "#000");
    });

    g.append("rect").attr("x", left).attr("y", top).attr("width", right - left).attr("height", bottom - top)
        .attr("fill", "none").attr("stroke", "#262626").attr("stroke-width", 1);

    // y label
    const cy = (top + bottom) / 2;
    const lab = g.append("text").attr("transform", `translate(${p.labelX + 4},${cy}) rotate(-90)`)
        .attr("text-anchor", "middle").style("font-size", "12.5px");
    if (p.label.length === 3) {
        lab.append("tspan").text(p.label[0]);
        lab.append("tspan").attr("dy", 3).style("font-size", "9px").text(p.label[1]);
        lab.append("tspan").attr("dy", -3).text(p.label[2]);
    } else {
        lab.text(p.label[0]);
    }

    if (p.xlabel) {
        g.append("text").attr("x", (left + right) / 2).attr("y", bottom + 25.5).attr("text-anchor", "middle")
            .style("font-size", "12px").text("Time(s)");
    }

    if (p.legend) {
        const lg = g.append("g");
        lg.append("rect").attr("x", 57).attr("y", 748).attr("width", 111).attr("height", 55).attr("rx", 2)
            .attr("fill", "#fff").attr("fill-opacity", 0.85).attr("stroke", "#cccccc").attr("stroke-width", 0.8);
        legendNames.forEach((name, k) => {
            const ly = 758 + k * 16.5;
            lg.append("line").attr("x1", 62).attr("x2", 87).attr("y1", ly).attr("y2", ly)
                .attr("stroke", strokes[k]).attr("stroke-width", k === 0 ? 1.4 : 1.2)
                .attr("stroke-dasharray", k === 0 ? "5,2.5" : null);
            lg.append("text").attr("x", 97).attr("y", ly + 4).style("font-size", "12px").text(name);
        });
    }
});
</script>
</body>
</html>
